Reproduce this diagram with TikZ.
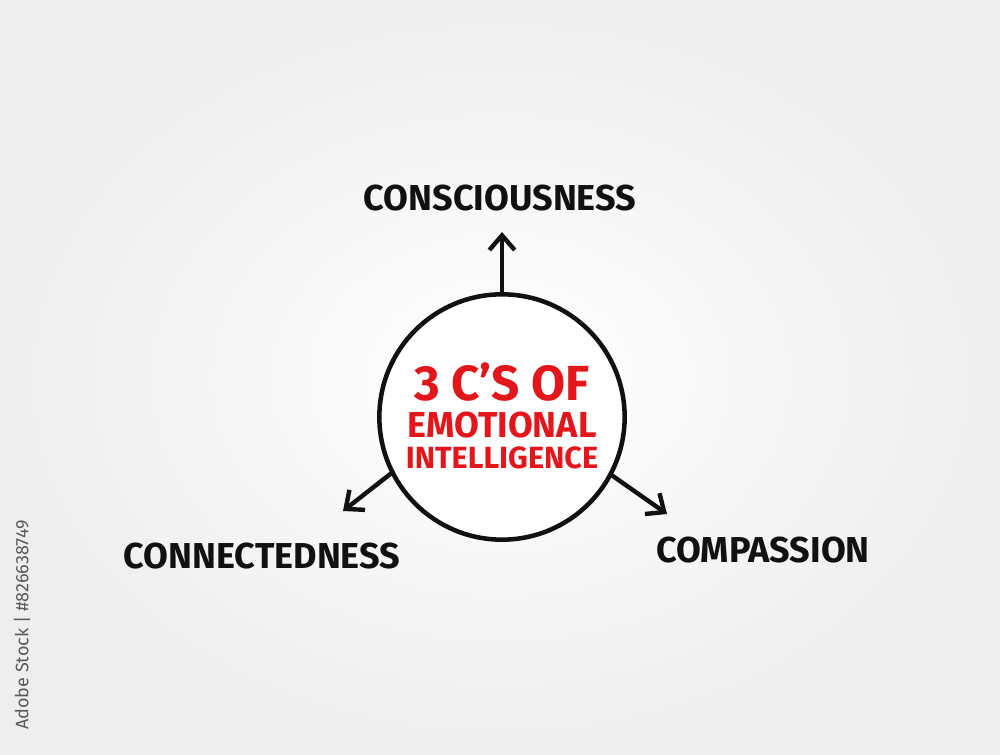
\documentclass[tikz,border=0pt]{standalone}
\usepackage{fontspec}
\setmainfont{Fira Sans}
\usepackage{xcolor}
\usepackage{tikz}
\usetikzlibrary{positioning, arrows.meta}

\definecolor{inkred}{HTML}{E3161B}
\definecolor{inkblack}{HTML}{111111}

\tikzset{
  label text/.style={font=\bfseries\fontsize{27}{30}\selectfont, text=inkblack, inner sep=0pt},
  hub text/.style={text=inkred, inner sep=0pt, align=center, font=\bfseries\fontsize{23}{23.25}\selectfont},
  ray/.style={line width=3.3pt, draw=inkblack, line cap=round,
    -{Straight Barb[length=11pt, width=19pt, line width=3.3pt]}}
}

\begin{document}
\begin{tikzpicture}[x=0.75pt, y=-0.75pt]
  \useasboundingbox (0,0) rectangle (1000,755);
  % soft background
  \shade[inner color=white, outer color=gray!13] (0,0) rectangle (1000,755);

  % central circle
  \node[draw=inkblack, circle, line width=3.4pt, minimum size=184pt, fill=white] (hub) at (502,417) {};
  \node[hub text, anchor=north] (hubtext) at (502,362)
    {{\fontsize{37}{37}\selectfont 3 C'S OF}\\[4.5pt]
     {\fontsize{27}{27}\selectfont EMOTIONAL}\\
     INTELLIGENCE};

  % free ends of the arrows
  \coordinate (tipup) at (502,232);
  \coordinate (tipleft) at (343,511);
  \coordinate (tipright) at (667,514);

  \draw[ray] (hub.north) -- (tipup);
  \draw[ray] (hub.207) -- (tipleft);
  \draw[ray] (hub.332) -- (tipright);

  % labels
  \node[label text] (conscious) at (500,198) {CONSCIOUSNESS};
  \node[label text] (connected) at (262,556) {CONNECTEDNESS};
  \node[label text] (compassion) at (763,550) {COMPASSION};

  \node[rotate=90, font=\fontsize{13.5}{13.5}\selectfont, text=gray!70!black] (stockid) at (22,625) {Adobe Stock | \#826638749};
\end{tikzpicture}
\end{document}
